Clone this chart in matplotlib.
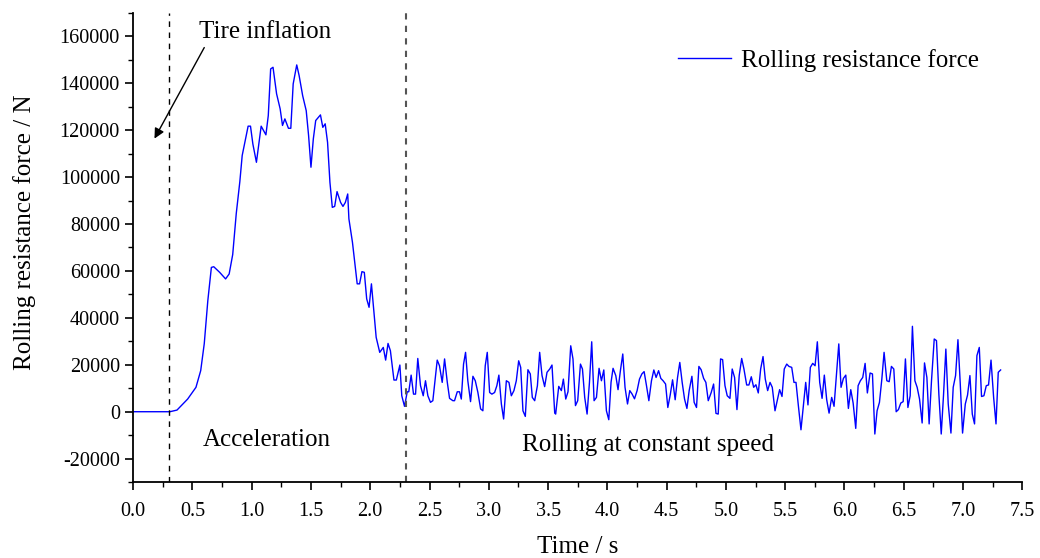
import numpy as np
import matplotlib
matplotlib.use("Agg")
import matplotlib.pyplot as plt
from matplotlib.ticker import MultipleLocator

plt.rcParams['font.family'] = ['Liberation Serif', 'DejaVu Serif']
plt.rcParams['axes.unicode_minus'] = False

# time (s) and rolling resistance force (N)
time_s = [
    0.00, 0.30, 0.31, 0.37, 0.46, 0.53, 0.57, 0.60, 0.63, 0.66, 0.68, 0.73, 0.78, 0.81,
    0.84, 0.87, 0.90, 0.92, 0.97, 0.99, 1.01, 1.04, 1.08, 1.12, 1.14, 1.16, 1.18, 1.21,
    1.24, 1.26, 1.28, 1.31, 1.33, 1.35, 1.38, 1.40, 1.43, 1.44, 1.46, 1.48, 1.50, 1.52,
    1.54, 1.58, 1.60, 1.62, 1.64, 1.66, 1.68, 1.70, 1.72, 1.75, 1.77, 1.79, 1.81, 1.82,
    1.85, 1.89, 1.91, 1.93, 1.95, 1.97, 1.99, 2.01, 2.05, 2.08, 2.11, 2.13, 2.15, 2.17,
    2.20, 2.22, 2.25,
    2.266, 2.289, 2.312, 2.325, 2.345, 2.365, 2.382, 2.401, 2.424, 2.447, 2.466, 2.486,
    2.508, 2.528, 2.565, 2.584, 2.607, 2.627, 2.650, 2.669, 2.697, 2.711, 2.734, 2.753,
    2.768, 2.787, 2.804, 2.823, 2.846, 2.866, 2.886, 2.908, 2.931, 2.950, 2.970, 2.987,
    3.007, 3.026, 3.049, 3.068, 3.085, 3.106, 3.125, 3.148, 3.170, 3.190, 3.212, 3.232,
    3.252, 3.269, 3.288, 3.308, 3.330, 3.350, 3.367, 3.387, 3.410, 3.429, 3.449, 3.471,
    3.491, 3.514, 3.533, 3.556, 3.564, 3.590, 3.612, 3.629, 3.649, 3.668, 3.691, 3.710,
    3.731, 3.750, 3.773, 3.790, 3.809, 3.829, 3.849, 3.868, 3.888, 3.908, 3.930, 3.950,
    3.970, 3.992, 4.012, 4.031, 4.048, 4.071, 4.090, 4.110, 4.130, 4.149, 4.170, 4.189,
    4.209, 4.229, 4.251, 4.271, 4.291, 4.310, 4.330, 4.350, 4.372, 4.392, 4.411, 4.432,
    4.451, 4.470, 4.491, 4.510, 4.530, 4.550, 4.572, 4.592, 4.611, 4.631, 4.651, 4.671,
    4.690, 4.713, 4.732, 4.752, 4.772, 4.791, 4.812, 4.831, 4.851, 4.876, 4.896, 4.916,
    4.935, 4.955, 4.972, 4.992, 5.011, 5.034, 5.053, 5.073, 5.093, 5.112, 5.133, 5.152,
    5.175, 5.194, 5.214, 5.234, 5.253, 5.273, 5.293, 5.313, 5.332, 5.352, 5.372, 5.391,
    5.414, 5.433, 5.453, 5.473, 5.492, 5.513, 5.532, 5.555, 5.574, 5.591, 5.611, 5.633,
    5.653, 5.673, 5.692, 5.712, 5.732, 5.752, 5.771, 5.791, 5.811, 5.830, 5.850, 5.870,
    5.892, 5.912, 5.932, 5.952, 5.971, 5.991, 6.011, 6.033, 6.053, 6.073, 6.095, 6.115,
    6.134, 6.154, 6.174, 6.193, 6.216, 6.236, 6.256, 6.275, 6.295, 6.315, 6.334, 6.357,
    6.377, 6.396, 6.416, 6.436, 6.455, 6.475, 6.495, 6.514, 6.535, 6.554, 6.573, 6.594,
    6.613, 6.633, 6.655, 6.675, 6.695, 6.714, 6.734, 6.757, 6.776, 6.796, 6.816, 6.835,
    6.855, 6.875, 6.898, 6.917, 6.937, 6.957, 6.976, 6.996, 7.019, 7.038, 7.058, 7.078,
    7.097, 7.117, 7.137, 7.156, 7.176, 7.196, 7.215, 7.236, 7.258, 7.278, 7.297, 7.317,
]
force_n = [
    0, 0, 0, 700, 5400, 10400, 17500, 29000, 47300, 61500, 61800, 59400, 56600, 58700,
    67000, 84500, 98000, 109200, 121700, 121700, 114100, 106300, 121700, 118000, 126200, 146100, 146800, 135500,
    129100, 122000, 124800, 120800, 120800, 139700, 147800, 143300, 134700, 132600, 128300, 117700, 104200, 116300,
    124100, 126500, 121200, 122700, 114800, 97800, 87100, 87500, 93800, 89200, 87500, 89200, 92800, 82200,
    72200, 54500, 54500, 59700, 59400, 48100, 44500, 54500, 31700, 25300, 27400, 22000, 29100, 26000,
    13500, 13500, 19900,
    6800, 2300, 8500, 8500, 15600, 7500, 7500, 22700, 11100, 6800, 13200, 6800,
    4000, 4700, 22000, 19600, 12500, 22500, 12500, 5700, 4700, 4700, 8500, 8500,
    5400, 20300, 25300, 13200, 4300, 15100, 13200, 8200, 1200, 400, 19600, 25300,
    8200, 7500, 8200, 11100, 15600, 3300, -3100, 13200, 12500, 6800, 9000, 13200,
    21700, 18900, 400, -2000, 17900, 16100, 6100, 4700, 11100, 25300, 15400, 10700,
    16800, 18200, 19900, -600, -1000, 10800, 9000, 13900, 5400, 8500, 28100, 22500,
    2600, 4700, 20300, 18200, 6100, -1000, 12500, 29800, 4700, 6100, 18500, 13200,
    17800, 400, -3400, 12500, 18500, 15400, 9400, 17500, 24600, 10400, 3300, 9000,
    7500, 5500, 9000, 13900, 16100, 17100, 11100, 4700, 13200, 17800, 14600, 17500,
    14200, 13200, 11800, 1800, 7100, 13600, 5100, 14600, 21000, 12500, 5400, 1400,
    9000, 15100, 4000, 1800, 19300, 17900, 14200, 12500, 4700, 8200, 11800, -700,
    -1000, 22500, 22200, 11100, 6800, 5700, 18200, 14600, 900, 15400, 22700, 18200,
    11400, 11400, 14900, 10400, 11500, 8000, 18200, 23500, 13900, 9000, 12500, 10400,
    400, 4700, 9400, 6500, 18200, 20300, 19300, 18900, 12500, 12500, 2600, -7700,
    2600, 12500, 2900, 18900, 20600, 19600, 29800, 12500, 5700, 15600, 5100, -600,
    6100, 2300, 15400, 28900, 10400, 14200, 15600, 1400, 9400, 3700, -7100, 11100,
    13200, 14600, 20600, 8000, 16500, 16100, -9500, 400, 4000, 13900, 25300, 13200,
    12800, 19300, 18200, 0, 900, 3700, 4300, 22500, 1800, 6800, 36400, 13200,
    10400, 5400, -4800, 20800, 14600, -5200, 13200, 31000, 30300, 7500, -9500, 6800,
    26700, 3300, -9100, 10400, 15400, 30700, 12500, -9100, 3300, 7100, 15400, -1000,
    -5200, 23900, 27400, 6500, 6800, 11100, 11400, 22000, 6100, -5200, 16800, 17800,
]

phase_bounds = [0.3, 2.3]
x_ticks = np.arange(0, 7.51, 0.5)
y_ticks = np.arange(-20000, 160001, 20000)

fig = plt.figure(figsize=(10.4, 5.58), dpi=100)
ax = fig.add_axes([0.128, 0.136, 0.855, 0.841])

ax.plot(time_s, force_n, color='#0000ff', lw=1.0, label='Rolling resistance force')

ax.axvline(phase_bounds[0], color='black', lw=1.0, ls=(0, (4, 4)))
ax.axvline(phase_bounds[1], color='#555555', lw=1.5, ls=(0, (3, 3)))

ax.set_xlim(0, 7.5)
ax.set_ylim(-30000, 170000)
ax.set_xticks(x_ticks)
ax.set_xticklabels([f'{v:.1f}' for v in x_ticks])
ax.set_yticks(y_ticks)
ax.set_yticklabels([f'{int(v)}' for v in y_ticks])
ax.xaxis.set_minor_locator(MultipleLocator(0.25))
ax.yaxis.set_minor_locator(MultipleLocator(10000))

for s in ['top', 'right']:
    ax.spines[s].set_visible(False)
for s in ['left', 'bottom']:
    ax.spines[s].set_linewidth(1.3)
ax.tick_params(which='major', direction='out', length=6, width=1.2, labelsize=14.5)
ax.tick_params(axis='x', which='major', pad=8)
ax.tick_params(which='minor', direction='out', length=3.5, width=1.0)

ax.set_xlabel('Time / s', fontsize=18, labelpad=11)
ax.set_ylabel('Rolling resistance force / N', fontsize=18, labelpad=17)
ax.yaxis.label.set_y(0.533)

# arrow and label for the inflation phase
ax.annotate('', xy=(0.18, 116400), xytext=(0.60, 155200),
            arrowprops=dict(arrowstyle='-|>', color='black', lw=1.0,
                            shrinkA=0, shrinkB=0, mutation_scale=15))
ax.text(1.11, 162000, 'Tire inflation', fontsize=18, ha='center', va='center')
ax.text(1.13, -12000, 'Acceleration', fontsize=18, ha='center', va='center')
ax.text(4.34, -14000, 'Rolling at constant speed', fontsize=18, ha='center', va='center')

ax.legend(loc='center left', bbox_to_anchor=(0.613, 0.898), frameon=False,
          fontsize=18, handlelength=2.1, handletextpad=0.4,
          borderpad=0, borderaxespad=0)

fig.savefig('out.png', dpi=100)
